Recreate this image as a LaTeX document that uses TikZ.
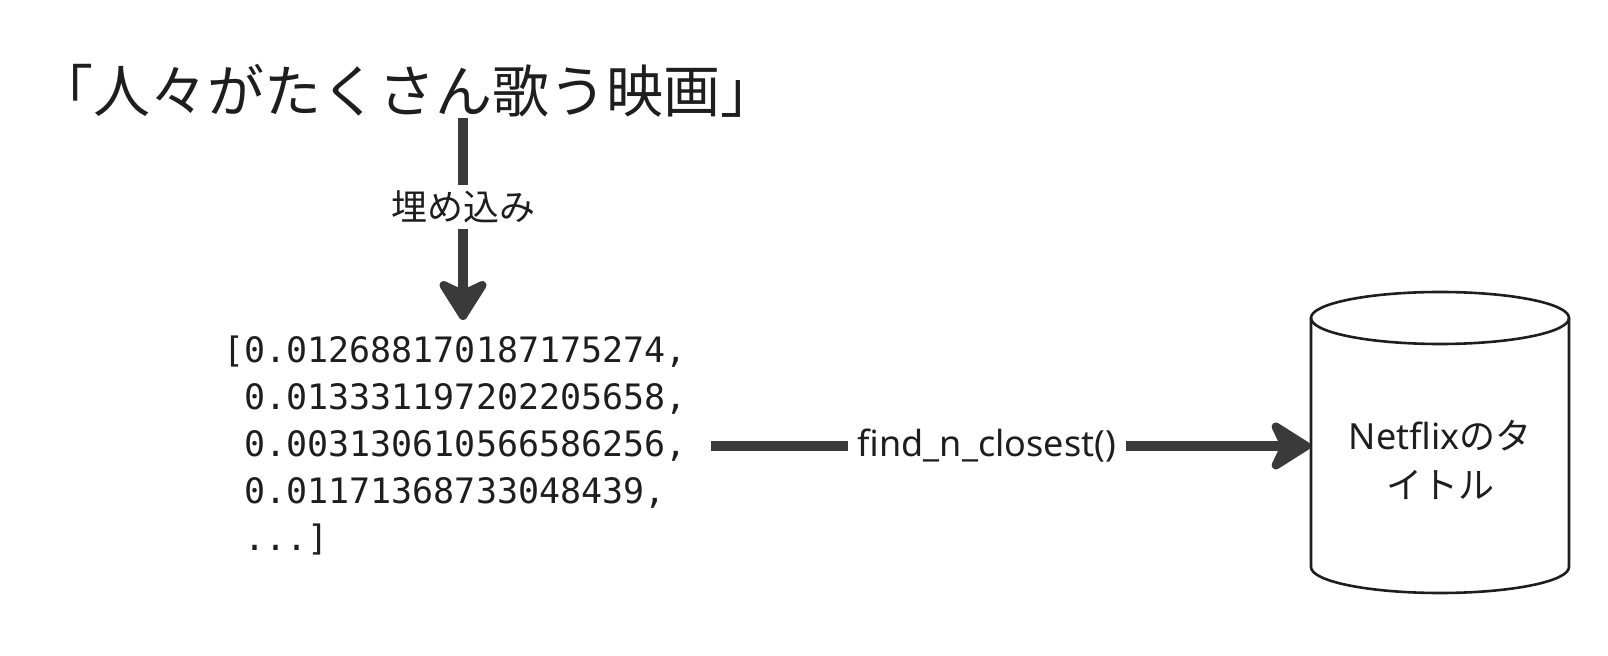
\documentclass[tikz,border=0pt]{standalone}
\usepackage{fontspec}
\setmainfont{Noto Sans}
\setmonofont{DejaVu Sans Mono}
\newfontfamily\jpfont{Noto Sans CJK JP}
\usetikzlibrary{arrows.meta,positioning}
\definecolor{arrowgray}{RGB}{58,58,58}
\definecolor{inkblack}{RGB}{30,30,30}

\begin{document}
\begin{tikzpicture}[x=0.5pt,y=-0.5pt,
    flow/.style={line width=5pt, draw=arrowgray, -{Stealth[length=24pt,width=30pt,inset=7pt,round]}},
    flowlabel/.style={fill=white, inner xsep=5pt, inner ysep=3pt, text=inkblack, font=\fontsize{18pt}{22pt}\selectfont},
    dbline/.style={draw=inkblack, line width=1.3pt}]
  \useasboundingbox (0,0) rectangle (1608,656);

  % 入力文
  \node[font=\jpfont\fontsize{28.5pt}{32pt}\selectfont, text=inkblack, inner sep=0pt] (query) at (407,91) {「人々がたくさん歌う映画」};

  % 埋め込みベクトル
  \node[font=\ttfamily\fontsize{17.5pt}{23.5pt}\selectfont, align=left, inner sep=0pt, text=inkblack] (vec) at (455,446)
    {[0.012688170187175274,\\
     \phantom{[}0.013331197202205658,\\
     \phantom{[}0.003130610566586256,\\
     \phantom{[}0.01171368733048439,\\
     \phantom{[}...]};

  % データベース
  \node[font=\fontsize{18pt}{24.5pt}\selectfont, align=center, text=inkblack, minimum width=129pt, inner sep=0pt] (db) at (1440,460)
    {Netflix{\jpfont のタ}\\{\jpfont イトル}};
  \draw[dbline] (1311,318) -- (1311,567) arc[start angle=180, end angle=360, x radius=64.5pt, y radius=13pt] -- (1569,318);
  \draw[dbline] (1440,318) ellipse[x radius=64.5pt, y radius=13pt];

  % 矢印
  \draw[flow] ([xshift=4pt]query.south -| vec.north) -- node[flowlabel, pos=0.44] {\jpfont 埋め込み} ([shift={(4pt,8pt)}]vec.north);
  \draw[flow] ([xshift=12pt]vec.east) -- node[flowlabel, pos=0.46] {find\_n\_closest()} (vec.east -| db.west);
\end{tikzpicture}
\end{document}
